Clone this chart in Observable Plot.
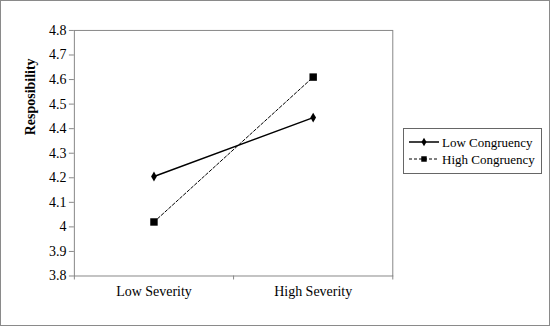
<!DOCTYPE html>
<html>
<head>
<meta charset="utf-8">
<script src="https://cdn.jsdelivr.net/npm/d3@7"></script>
<script src="https://cdn.jsdelivr.net/npm/@observablehq/plot@0.6"></script>
<style>
  html, body { margin: 0; padding: 0; background: #fff; }
  #wrap { position: relative; width: 550px; height: 326px; box-sizing: border-box; border: 1px solid #8a8a8a; overflow: hidden; font-family: 'Liberation Serif', 'Times New Roman', serif; }
  #chart { position: absolute; left: -1px; top: -1px; }
  #chart svg, #chart svg text { font-family: 'Liberation Serif', 'Times New Roman', serif !important; }
  #legend { position: absolute; left: 402px; top: 127px; }
  #legend text { font-family: 'Liberation Serif', 'Times New Roman', serif; }
</style>
</head>
<body>
<div id="wrap"><div id="chart"></div><svg id="legend" width="140" height="47"></svg></div>
<script>
const categories = ["Low Severity", "High Severity"];
const seriesNames = ["Low Congruency", "High Congruency"];
const lowCongruency = [4.205, 4.445];
const highCongruency = [4.02, 4.61];
const yTicks = [3.8, 3.9, 4.0, 4.1, 4.2, 4.3, 4.4, 4.5, 4.6, 4.7, 4.8];
const yTitle = "Resposibility";

const rows = [];
categories.forEach((c, i) => {
  rows.push({series: seriesNames[0], cat: c, xi: i + 0.5, v: lowCongruency[i]});
  rows.push({series: seriesNames[1], cat: c, xi: i + 0.5, v: highCongruency[i]});
});
const lowRows = rows.filter(d => d.series === seriesNames[0]);
const highRows = rows.filter(d => d.series === seriesNames[1]);

const serif = "'Liberation Serif', 'Times New Roman', serif";

const chart = Plot.plot({
  width: 550,
  height: 326,
  marginLeft: 74,
  marginRight: 157,
  marginTop: 30,
  marginBottom: 50,
  style: { fontFamily: serif, fontSize: "14px", color: "#000", background: "transparent" },
  x: { type: "linear", domain: [0, categories.length] },
  y: { domain: [3.8, 4.8] },
  marks: [
    Plot.axisY({ ticks: yTicks, tickSize: 5, tickPadding: 3, stroke: "#888", tickFormat: d => String(+d.toFixed(1)), label: null, fontSize: 14 }),
    Plot.axisX({ ticks: d3.range(categories.length + 1), tickSize: 4, stroke: "#888", tickFormat: () => "", label: null }),
    Plot.axisX({ ticks: categories.map((c, i) => i + 0.5), tickSize: 0, tickPadding: 10, tickFormat: d => categories[Math.round(d - 0.5)], label: null, fontSize: 14 }),
    Plot.frame({ stroke: "#888" }),
    Plot.text([yTitle], { text: d => d, frameAnchor: "left", rotate: -90, dx: -44, dy: -18, fontWeight: "bold", fontSize: 14 }),
    Plot.line(lowRows, { x: "xi", y: "v", stroke: "#000", strokeWidth: 1.5 }),
    Plot.line(highRows, { x: "xi", y: "v", stroke: "#000", strokeWidth: 1, strokeDasharray: "3,2" }),
    Plot.dot(lowRows, { x: "xi", y: "v", symbol: "diamond", r: 3, fill: "#000" }),
    Plot.dot(highRows, { x: "xi", y: "v", symbol: "square", r: 4.2, fill: "#000" })
  ]
});
document.getElementById("chart").appendChild(chart);

// legend
const lg = d3.select("#legend");
lg.append("rect").attr("x", 0.5).attr("y", 0.5).attr("width", 138).attr("height", 45).attr("fill", "#fff").attr("stroke", "#666");
const styles = [
  { dash: null, w: 1.5, sym: d3.symbolDiamond, size: 22 },
  { dash: "3,2", w: 1, sym: d3.symbolSquare, size: 30 }
];
seriesNames.forEach((name, i) => {
  const cy = 14 + i * 17;
  const s = styles[i];
  lg.append("line").attr("x1", 6).attr("x2", 36).attr("y1", cy).attr("y2", cy)
    .attr("stroke", "#000").attr("stroke-width", s.w).attr("stroke-dasharray", s.dash);
  lg.append("path").attr("d", d3.symbol(s.sym, s.size)()).attr("transform", `translate(21,${cy})`).attr("fill", "#000");
  lg.append("text").attr("x", 39).attr("y", cy + 4.5).attr("font-size", 13).text(name);
});
</script>
</body>
</html>
